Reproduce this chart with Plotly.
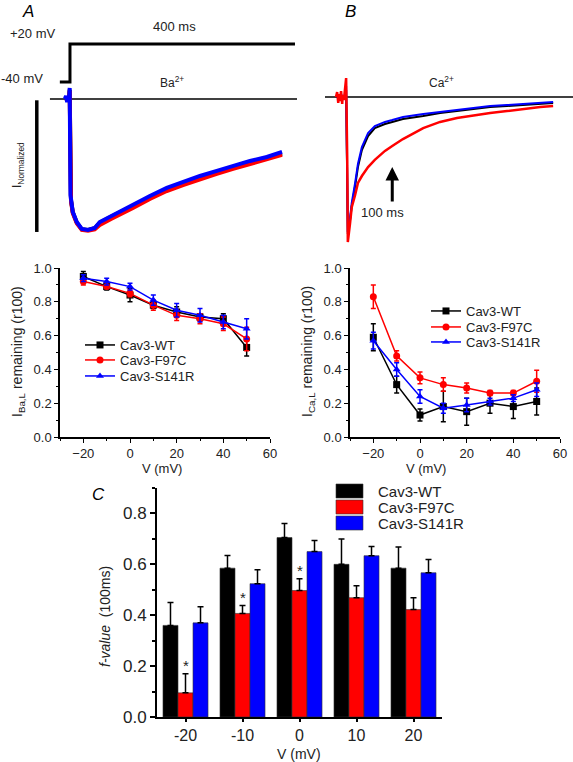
import plotly.graph_objects as go

W, H = 573, 762
FONT = "Liberation Sans, Arial, Helvetica, sans-serif"
BLACK, RED, BLUE = "#000000", "#ff0000", "#0000ff"

# ---------------- Panel A: Ba2+ current traces (t in ms, normalized current) -------------
a_time = [-9, -7, -5, -3.6, -1.8, -0.5, 0.9, 1.8, 5, 12, 21, 32, 44, 53, 73, 84, 112, 142,
          172, 201, 231, 261, 290, 320, 350, 377]
a_wt = [0, 0, 0, 0, 0, 0.07, -0.722, -0.76, -0.852, -0.928, -0.98, -0.985, -0.972, -0.93,
        -0.885, -0.862, -0.805, -0.737, -0.677, -0.632, -0.587, -0.549, -0.511, -0.474, -0.444, -0.41]
a_f97c = [0, 0, 0, 0, 0, 0.06, -0.722, -0.77, -0.86, -0.935, -0.985, -0.99, -0.98, -0.947,
          -0.902, -0.880, -0.820, -0.752, -0.692, -0.647, -0.602, -0.564, -0.526, -0.489, -0.459, -0.421]
a_s141r = [0, 0.023, -0.023, 0.023, -0.015, 0.083, -0.722, -0.759, -0.850, -0.925, -0.977,
           -0.985, -0.970, -0.925, -0.880, -0.857, -0.797, -0.729, -0.669, -0.624, -0.579,
           -0.541, -0.504, -0.466, -0.436, -0.398]

# voltage protocol
v_time = [-18, 0, 0, 400]
v_mv = [-40, -40, 20, 20]

# ---------------- Panel B: Ca2+ current traces -------------
b_time = [0, 2, 4, 5, 7, 9, 11, 12, 14, 16, 18, 20, 21, 25, 28, 34, 39, 46, 57, 69, 87, 100,
          119, 155, 185, 215, 247, 274, 304, 332, 363, 386]
b_wt = [0, 0, 0, 0, 0, 0, 0, 0, 0, 0, 0.048, -0.448, -0.945, -0.848, -0.752, -0.614, -0.483,
        -0.366, -0.269, -0.214, -0.186, -0.172, -0.152, -0.131, -0.110, -0.097, -0.083, -0.069,
        -0.062, -0.055, -0.048, -0.041]
b_f97c = [0, 0.034, -0.041, 0.021, -0.028, 0.041, -0.048, 0.014, -0.021, 0.048, 0.131, -0.434,
          -1.0, -0.869, -0.759, -0.676, -0.593, -0.545, -0.483, -0.434, -0.372, -0.338, -0.290,
          -0.214, -0.172, -0.145, -0.124, -0.110, -0.097, -0.083, -0.069, -0.062]
b_s141r = [0, 0.007, -0.007, 0, 0.007, -0.014, 0, 0.014, -0.014, 0, 0.076, -0.434, -0.931,
           -0.834, -0.731, -0.593, -0.462, -0.345, -0.248, -0.2, -0.172, -0.159, -0.138, -0.117,
           -0.103, -0.090, -0.076, -0.062, -0.055, -0.048, -0.041, -0.034]

# ---------------- r100 remaining vs voltage -------------
volts = [-20, -10, 0, 10, 20, 30, 40, 50]
ba_wt = [0.95, 0.89, 0.84, 0.78, 0.74, 0.71, 0.70, 0.53]
ba_wt_err = [0.03, 0.02, 0.04, 0.02, 0.03, 0.02, 0.03, 0.05]
ba_f97c = [0.92, 0.89, 0.85, 0.78, 0.72, 0.70, 0.67, 0.58]
ba_f97c_err = [0.02, 0.01, 0.02, 0.03, 0.03, 0.03, 0.04, 0.07]
ba_s141r = [0.94, 0.92, 0.89, 0.81, 0.75, 0.72, 0.68, 0.64]
ba_s141r_err = [0.02, 0.02, 0.02, 0.03, 0.04, 0.04, 0.04, 0.06]

ca_wt = [0.59, 0.31, 0.13, 0.18, 0.15, 0.20, 0.18, 0.21]
ca_wt_err = [0.08, 0.05, 0.035, 0.09, 0.08, 0.06, 0.07, 0.08]
ca_f97c = [0.83, 0.48, 0.35, 0.31, 0.29, 0.26, 0.26, 0.33]
ca_f97c_err = [0.07, 0.03, 0.035, 0.04, 0.03, 0.015, 0.015, 0.065]
ca_s141r = [0.57, 0.40, 0.24, 0.17, 0.19, 0.21, 0.23, 0.28]
ca_s141r_err = [0.05, 0.04, 0.04, 0.03, 0.04, 0.02, 0.02, 0.04]

# ---------------- Panel C: f-value (100 ms) -------------
bar_v = ["-20", "-10", "0", "10", "20"]
f_wt = [0.36, 0.585, 0.705, 0.60, 0.585]
f_wt_err = [0.09, 0.05, 0.055, 0.10, 0.083]
f_f97c = [0.095, 0.407, 0.497, 0.469, 0.422]
f_f97c_err = [0.075, 0.031, 0.046, 0.047, 0.047]
f_s141r = [0.37, 0.524, 0.65, 0.634, 0.567]
f_s141r_err = [0.063, 0.055, 0.044, 0.036, 0.052]
signif = [True, True, True, False, False]

names = ["Cav3-WT", "Cav3-F97C", "Cav3-S141R"]
colors = [BLACK, RED, BLUE]


def px(x):
    return x / W


def py(y):
    return 1 - y / H


fig = go.Figure()

# Panel A traces
for ys, c in zip([a_wt, a_f97c, a_s141r], colors):
    fig.add_trace(go.Scatter(x=a_time, y=ys, mode="lines", line=dict(color=c, width=4),
                             xaxis="x", yaxis="y", showlegend=False, hoverinfo="skip"))
fig.add_trace(go.Scatter(x=v_time, y=v_mv, mode="lines", line=dict(color=BLACK, width=3),
                         xaxis="x", yaxis="y2", showlegend=False, hoverinfo="skip"))

# Panel B traces
for ys, c, wd in zip([b_wt, b_s141r, b_f97c], [BLACK, BLUE, RED], [2, 2, 2.5]):
    fig.add_trace(go.Scatter(x=b_time, y=ys, mode="lines", line=dict(color=c, width=wd),
                             xaxis="x3", yaxis="y3", showlegend=False, hoverinfo="skip"))

# line plots (one legend per entry so rows can be spaced like the original)
symbols = ["square", "circle", "triangle-up"]
ba_legends = ["legend2", "legend3", "legend4"]
ca_legends = ["legend5", "legend6", "legend7"]
for (ys, es), c, n, s, lg in zip([(ba_wt, ba_wt_err), (ba_f97c, ba_f97c_err), (ba_s141r, ba_s141r_err)],
                                 colors, names, symbols, ba_legends):
    fig.add_trace(go.Scatter(x=volts, y=ys, mode="lines+markers", name=n,
                             line=dict(color=c, width=1.5), marker=dict(symbol=s, size=7, color=c),
                             error_y=dict(type="data", array=es, color=c, thickness=1.5, width=2.5),
                             xaxis="x4", yaxis="y4", legend=lg))
for (ys, es), c, n, s, lg in zip([(ca_wt, ca_wt_err), (ca_f97c, ca_f97c_err), (ca_s141r, ca_s141r_err)],
                                 colors, names, symbols, ca_legends):
    fig.add_trace(go.Scatter(x=volts, y=ys, mode="lines+markers", name=n,
                             line=dict(color=c, width=1.5), marker=dict(symbol=s, size=7, color=c),
                             error_y=dict(type="data", array=es, color=c, thickness=1.5, width=2.5),
                             xaxis="x5", yaxis="y5", legend=lg))

# bars
for (ys, es), c, n in zip([(f_wt, f_wt_err), (f_f97c, f_f97c_err), (f_s141r, f_s141r_err)],
                          colors, names):
    fig.add_trace(go.Bar(x=bar_v, y=ys, name=n, showlegend=False,
                         marker=dict(color=c, line=dict(color="#333333", width=0.6)),
                         error_y=dict(type="data", array=es, arrayminus=[0] * len(es), symmetric=False,
                                      color=BLACK, thickness=1.5, width=3),
                         xaxis="x6", yaxis="y6"))

hidden = dict(visible=False, fixedrange=True, automargin=False)
tick_common = dict(showline=True, linecolor=BLACK, linewidth=1.5, ticks="outside", ticklen=4,
                   tickwidth=1.2, tickcolor=BLACK, showgrid=False, zeroline=False, automargin=False,
                   tickfont=dict(family=FONT, size=13, color="#222222"))

top_dom = [py(245), 1]
mid_dom = [py(437), py(268)]


def leg(x, y, size=13):
    return dict(x=px(x), y=py(y), xanchor="left", yanchor="middle", bgcolor="rgba(0,0,0,0)",
                font=dict(family=FONT, size=size, color="#222222"), itemwidth=30,
                borderwidth=0)


fig.update_layout(
    width=W, height=H, autosize=False,
    margin=dict(l=0, r=0, t=0, b=0, autoexpand=False),
    paper_bgcolor="white", plot_bgcolor="white",
    font=dict(family=FONT, color=BLACK),
    barmode="group", bargap=0.21, bargroupgap=0,
    xaxis=dict(domain=[0, px(297)], range=[-124.4, 403.6], anchor="y", **hidden),
    yaxis=dict(domain=top_dom, range=[-1.098, 0.744], anchor="x", **hidden),
    yaxis2=dict(overlaying="y", range=[-297.4, 89.5], anchor="x", **hidden),
    xaxis3=dict(domain=[px(300), 1], range=[-64, 421.3], anchor="y3", **hidden),
    yaxis3=dict(domain=top_dom, range=[-1.0207, 0.669], anchor="x3", **hidden),
    xaxis4=dict(domain=[px(60), px(270)], range=[-30, 60], anchor="y4", dtick=20, tick0=0,
                minor=dict(dtick=10, ticks="outside", ticklen=2.5, tickcolor=BLACK), **tick_common),
    yaxis4=dict(domain=mid_dom, range=[0, 1.0], anchor="x4", dtick=0.2, tickformat=".1f",
                minor=dict(dtick=0.1, ticks="outside", ticklen=2.5, tickcolor=BLACK), **tick_common),
    xaxis5=dict(domain=[px(350), px(560)], range=[-30, 60], anchor="y5", dtick=20, tick0=0,
                minor=dict(dtick=10, ticks="outside", ticklen=2.5, tickcolor=BLACK), **tick_common),
    yaxis5=dict(domain=mid_dom, range=[0, 1.0], anchor="x5", dtick=0.2, tickformat=".1f",
                minor=dict(dtick=0.1, ticks="outside", ticklen=2.5, tickcolor=BLACK), **tick_common),
    xaxis6=dict(domain=[px(157), px(442)], type="category", range=[-0.5, 4.5], anchor="y6",
                showline=True, linecolor=BLACK, linewidth=2, ticks="outside", ticklen=3, tickwidth=1.5,
                tickcolor=BLACK, showgrid=False, zeroline=False, automargin=False,
                tickfont=dict(family=FONT, size=16, color="#222222")),
    yaxis6=dict(domain=[py(717), py(488)], range=[0, 0.9], anchor="x6", dtick=0.2, tickformat=".1f",
                showline=True, linecolor=BLACK, linewidth=2, ticks="outside", ticklen=5, tickwidth=1.5,
                tickcolor=BLACK, showgrid=False, zeroline=False, automargin=False,
                minor=dict(dtick=0.1, ticks="outside", ticklen=3, tickcolor=BLACK),
                tickfont=dict(family=FONT, size=17, color="#222222")),
    legend2=leg(80, 345), legend3=leg(80, 360), legend4=leg(80, 376),
    legend5=leg(426, 311), legend6=leg(426, 327), legend7=leg(426, 342),
)

# reference lines: zero current lines & scale bar
fig.add_shape(type="line", xref="x", yref="y", x0=-35.6, x1=403.6, y0=0, y1=0,
              line=dict(color=BLACK, width=1.5), layer="below")
fig.add_shape(type="line", xref="x3", yref="y3", x0=-19.6, x1=421.3, y0=0, y1=0,
              line=dict(color=BLACK, width=1.5), layer="below")
fig.add_shape(type="line", xref="x", yref="y", x0=-59, x1=-59, y0=-0.01, y1=-1.0,
              line=dict(color=BLACK, width=3.5))


def txt(x, y, s, size=13, angle=0, italic=False, color="#222222", xanchor="center"):
    if italic:
        s = "<i>" + s + "</i>"
    fig.add_annotation(x=px(x), y=py(y), xref="paper", yref="paper", text=s, showarrow=False,
                       textangle=angle, xanchor=xanchor, yanchor="middle",
                       font=dict(family=FONT, size=size, color=color))


txt(28, 11, "A", 17, italic=True, color=BLACK)
txt(32, 34, "+20 mV", 13)
txt(174, 26, "400 ms", 13)
txt(22, 79, "-40 mV", 13)
txt(172, 82, "Ba<sup>2+</sup>", 12)
txt(18, 165, "I<sub>Normalized</sub>", 12, angle=-90)
txt(350, 12, "B", 17, italic=True, color=BLACK)
txt(441, 82, "Ca<sup>2+</sup>", 12)
txt(382, 213, "100 ms", 13)
fig.add_annotation(x=100, y=-0.483, xref="x3", yref="y3", ax=0, ay=36,
                   text="", showarrow=True, arrowhead=2, arrowsize=0.9, arrowwidth=3, arrowcolor=BLACK)
txt(18, 352, "I<sub>Ba,L</sub> remaining (r100)", 14, angle=-90)
txt(308, 352, "I<sub>Ca,L</sub> remaining (r100)", 14, angle=-90)
txt(162, 468, "V (mV)", 13)
txt(426, 468, "V (mV)", 13)
txt(98, 495, "C", 17, italic=True, color=BLACK)
txt(105, 617, "<i>f-value</i>  (100ms)", 14, angle=-90)
txt(299, 754, "V (mV)", 14)

# legend of panel C (swatch + label)
for i, (n, c) in enumerate(zip(names, colors)):
    yc = 491 + 16 * i
    fig.add_shape(type="rect", xref="paper", yref="paper", x0=px(336), x1=px(363),
                  y0=py(yc + 7), y1=py(yc - 7), fillcolor=c, line=dict(color="#333333", width=0.6))
    txt(376, yc, n, 15, xanchor="left")

for i, (y, e, s) in enumerate(zip(f_f97c, f_f97c_err, signif)):
    if s:
        fig.add_annotation(x=i, y=y + e, xref="x6", yref="y6", text="*", showarrow=False,
                           yanchor="bottom", yshift=-2, font=dict(family=FONT, size=15, color="#222222"))

fig.write_html("out.html", config={"displayModeBar": False},
               post_script="document.body.style.margin='0';document.body.style.padding='0';"
                           "document.body.style.overflow='hidden';")
